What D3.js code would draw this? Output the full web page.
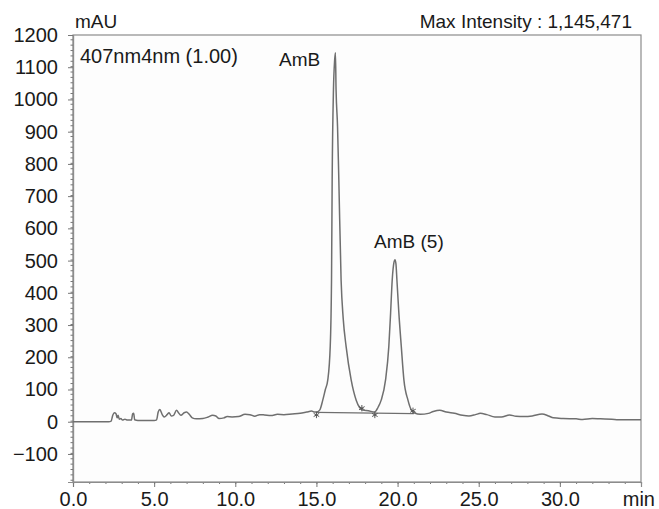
<!DOCTYPE html>
<html>
<head>
<meta charset="utf-8">
<script src="https://cdn.jsdelivr.net/npm/d3@7"></script>
<style>
    body { margin: 0; background: #fff; }
    text { font-family: "Liberation Sans", Arial, sans-serif; fill: #1a1a1a; }
</style>
</head>
<body>
<div id="chart"></div>
<script>
// chromatogram: time (min) / signal (mAU)
let timeMin = [0, 2.2, 2.35, 2.45, 2.55, 2.65, 2.72, 2.78, 2.85, 2.95, 3.05, 3.2, 3.35, 3.6, 3.68, 3.74, 3.8, 4.0,
    5.0, 5.15, 5.25, 5.35, 5.5, 5.62, 5.8, 5.92, 6.05, 6.2, 6.38, 6.5, 6.65, 6.85, 7.0, 7.15, 7.35, 7.6,
    8.0, 8.3, 8.6, 8.8, 9.0, 9.3, 9.5, 9.8, 10.2, 10.6, 10.9, 11.2, 11.5, 11.8, 12.2, 12.6, 13.0, 13.5,
    14.0, 14.4, 14.7, 14.9, 15.0, 15.2, 15.39, 15.55, 15.7, 15.85, 15.93, 15.97, 16.05, 16.12, 16.17,
    16.21, 16.3, 16.38, 16.52, 16.65, 16.83, 17.14, 17.45, 17.65, 17.86, 18.2, 18.58, 18.8, 18.99,
    19.26, 19.46, 19.57, 19.67, 19.78, 19.84, 19.9, 19.96, 20.08, 20.23, 20.39, 20.64, 20.85, 21.05,
    21.4, 21.9, 22.2, 22.6, 23.0, 23.5, 24.0, 24.4, 24.8, 25.1, 25.5, 26.0, 26.4, 26.9, 27.3, 27.8,
    28.3, 28.9, 29.3, 29.6, 30.2, 31.0, 31.4, 32.0, 32.5, 33.2, 33.6, 35.0]
let signalMAU = [0, 0, 2, 20, 28, 25, 12, 20, 8, 10, 5, 8, 5, 5, 25, 26, 6, 4,
    4, 6, 30, 38, 22, 15, 22, 28, 18, 20, 36, 28, 20, 28, 30, 24, 12, 9,
    10, 14, 20, 18, 10, 12, 16, 15, 16, 23, 22, 17, 22, 21, 19, 23, 22, 24,
    26, 30, 33, 30, 30, 36, 67, 100, 130, 233, 440, 751, 1031, 1120, 1145,
    1031, 917, 751, 440, 320, 233, 130, 67, 45, 36, 34, 30, 45, 67,
    130, 233, 337, 440, 495, 503, 490, 440, 337, 233, 130, 67, 36, 27,
    23, 26, 32, 36, 30, 26, 20, 18, 22, 26, 22, 15, 15, 21, 17, 16,
    18, 24, 18, 12, 10, 9, 7, 10, 9, 8, 6, 6]

// integration marks (peak start / end) and the drawn baseline
let markTimes = [15.0, 17.8, 18.6, 20.95]
let markValues = [21, 42, 21, 34]
let baseTimes = [15.0, 21.0]
let baseValues = [29, 25]

let yTicks = [-100, 0, 100, 200, 300, 400, 500, 600, 700, 800, 900, 1000, 1100, 1200]
let xTicks = [0, 5, 10, 15, 20, 25, 30]

let peakLabels = ["AmB", "AmB (5)"]
let peakLabelTimes = [12.7, 18.55]
let peakLabelValues = [1105, 540]

// set the dimensions and margins of the graph
let margin = {
        top: 35,
        right: 18,
        bottom: 27,
        left: 73
    },
    width = 659 - margin.left - margin.right,
    height = 509 - margin.top - margin.bottom;

let svg = d3.select("#chart")
    .append("svg")
    .attr("width", width + margin.left + margin.right)
    .attr("height", height + margin.top + margin.bottom)
    .append("g")
    .attr("transform", "translate(" + margin.left + "," + margin.top + ")");

let x = d3.scaleLinear()
    .domain([0, 35])
    .range([0, width]);

let y = d3.scaleLinear()
    .domain([-187, 1200])
    .range([height, 0]);

// frame
svg.append("rect")
    .attr("width", width)
    .attr("height", height)
    .attr("fill", "#fdfdfd")
    .attr("stroke", "#8c8c8c")
    .attr("stroke-width", 1.2)

// minor ticks
svg.append("g")
    .attr("transform", "translate(0," + height + ")")
    .call(d3.axisBottom(x).tickValues(d3.range(0, 36, 1)).tickSize(2).tickFormat(""))
svg.append("g")
    .call(d3.axisLeft(y).tickValues(d3.range(-180, 1201, 100 / 6)).tickSize(2.5).tickFormat(""))

// major ticks + labels
let xAxis = svg.append("g")
    .attr("transform", "translate(0," + height + ")")
    .call(d3.axisBottom(x).tickValues(xTicks).tickSize(5).tickPadding(5).tickFormat(d3.format(".1f")))
let yAxis = svg.append("g")
    .call(d3.axisLeft(y).tickValues(yTicks).tickSize(5).tickPadding(10).tickFormat(d3.format("d")))

svg.selectAll(".domain").attr("stroke", "#8c8c8c").attr("stroke-width", 1.2)
svg.selectAll(".tick line").attr("stroke", "#777")
svg.selectAll(".tick text").style("font-size", "20px").attr("fill", "#1a1a1a")

// the chromatogram
let line = d3.line()
    .x((d) => {
        return x(d[0])
    })
    .y((d) => {
        return y(d[1])
    })
    .curve(d3.curveMonotoneX)

svg.append("path")
    .datum(timeMin.map((t, i) => [t, signalMAU[i]]))
    .attr("d", line)
    .attr("fill", "none")
    .attr("stroke", "#6f6f6f")
    .attr("stroke-width", 1.5)

svg.append("path")
    .datum(baseTimes.map((t, i) => [t, baseValues[i]]))
    .attr("d", d3.line().x((d) => x(d[0])).y((d) => y(d[1])))
    .attr("fill", "none")
    .attr("stroke", "#6f6f6f")
    .attr("stroke-width", 1.2)

svg.selectAll("myMarks")
    .data(markTimes)
    .enter()
    .append("path")
    .attr("d", d3.symbol().type(d3.symbolAsterisk).size(28))
    .attr("transform", (d, i) => {
        return "translate(" + x(d) + "," + y(markValues[i]) + ")"
    })
    .attr("fill", "none")
    .attr("stroke", "#555")
    .attr("stroke-width", 1)

// peak names
svg.selectAll("myLabels")
    .data(peakLabels)
    .enter()
    .append("text")
    .attr("x", (d, i) => x(peakLabelTimes[i]))
    .attr("y", (d, i) => y(peakLabelValues[i]))
    .text((d) => d)
    .style("font-size", "19px")

// titles
svg.append("text")
    .attr("x", 2)
    .attr("y", -7)
    .text("mAU")
    .style("font-size", "19px")

svg.append("text")
    .attr("x", width - 9)
    .attr("y", -7)
    .attr("text-anchor", "end")
    .text("Max Intensity : 1,145,471")
    .style("font-size", "19px")

svg.append("text")
    .attr("x", 7)
    .attr("y", 28)
    .text("407nm4nm (1.00)")
    .style("font-size", "20px")

svg.append("text")
    .attr("x", width + 14)
    .attr("y", height + 24)
    .attr("text-anchor", "end")
    .text("min")
    .style("font-size", "20px")
</script>
</body>
</html>
